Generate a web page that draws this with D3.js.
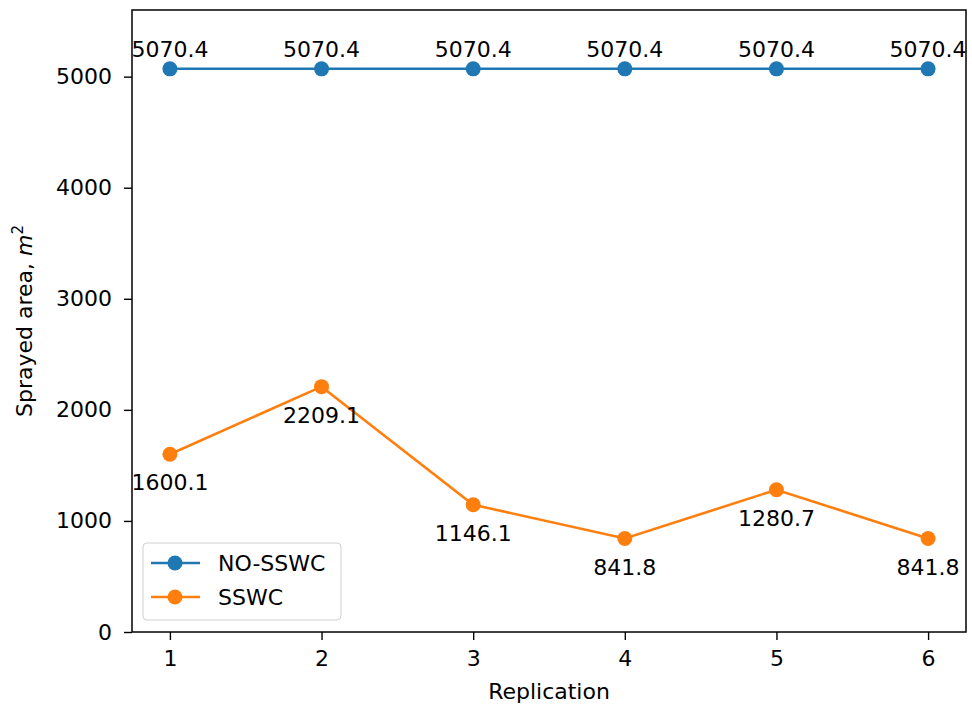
<!DOCTYPE html>
<html lang="en">
  <head>
    <meta charset="UTF-8" />
    <title>Sprayed area</title>
    <script src="https://cdn.jsdelivr.net/npm/d3@7"></script>
    <style>
      body { margin: 0; background: #fff; }
      text { font-family: "DejaVu Sans", sans-serif; fill: #000; }
    </style>
  </head>
  <body>
    <svg width="972" height="708"></svg>
    <script>
      // data
      var replications = [1, 2, 3, 4, 5, 6];
      var noSswc = [5070.4, 5070.4, 5070.4, 5070.4, 5070.4, 5070.4];
      var sswc = [1600.1, 2209.1, 1146.1, 841.8, 1280.7, 841.8];
      var yTicks = [0, 1000, 2000, 3000, 4000, 5000];

      var marge = { top: 10, bottom: 76, left: 132, right: 6 };
      var width = 972 - marge.left - marge.right;
      var height = 708 - marge.top - marge.bottom;
      var fs = "22px";

      const svg = d3.select("svg");
      const g = svg.append("g")
        .attr("transform", `translate(${marge.left},${marge.top})`);

      const x = d3.scaleLinear().domain([0.75, 6.25]).range([0, width]);
      const y = d3.scaleLinear().domain([0, 5600]).range([height, 0]);

      // axes
      const xAxis = d3.axisBottom(x).tickValues(replications).tickFormat(d3.format("d")).tickSize(8).tickPadding(10);
      const yAxis = d3.axisLeft(y).tickValues(yTicks).tickFormat(d3.format("d")).tickSize(8).tickPadding(12);

      const gx = g.append("g").attr("transform", `translate(0,${height})`).call(xAxis);
      const gy = g.append("g").call(yAxis);
      [gx, gy].forEach(a => {
        a.select(".domain").remove();
        a.selectAll("line").attr("stroke", "#000").attr("stroke-width", 1.4);
        a.selectAll("text").style("font-size", fs).attr("fill", "#000");
      });

      // frame
      g.append("rect")
        .attr("width", width).attr("height", height)
        .attr("fill", "none").attr("stroke", "#000").attr("stroke-width", 1.5);

      const series = [
        { name: "NO-SSWC", values: noSswc, color: "#1f77b4", dy: -12 },
        { name: "SSWC", values: sswc, color: "#ff7f0e", dy: 36 }
      ];

      const line = d3.line().x((d, i) => x(replications[i])).y(d => y(d));

      series.forEach(s => {
        g.append("path")
          .datum(s.values)
          .attr("d", line)
          .attr("fill", "none")
          .attr("stroke", s.color)
          .attr("stroke-width", 2.6);
        g.selectAll(null)
          .data(s.values)
          .enter()
          .append("circle")
          .attr("cx", (d, i) => x(replications[i]))
          .attr("cy", d => y(d))
          .attr("r", 7.5)
          .attr("fill", s.color);
        g.selectAll(null)
          .data(s.values)
          .enter()
          .append("text")
          .attr("x", (d, i) => x(replications[i]))
          .attr("y", d => y(d) + s.dy)
          .attr("text-anchor", "middle")
          .style("font-size", fs)
          .text(d => d.toFixed(1));
      });

      // legend
      const leg = g.append("g").attr("transform", "translate(11,533)");
      leg.append("rect")
        .attr("width", 198).attr("height", 77).attr("rx", 4)
        .attr("fill", "#fff").attr("fill-opacity", 0.8)
        .attr("stroke", "#d0d0d0").attr("stroke-width", 1);
      series.forEach((s, i) => {
        const ly = 20 + i * 34;
        leg.append("line")
          .attr("x1", 8).attr("x2", 57).attr("y1", ly).attr("y2", ly)
          .attr("stroke", s.color).attr("stroke-width", 2.6);
        leg.append("circle").attr("cx", 32).attr("cy", ly).attr("r", 7.5).attr("fill", s.color);
        leg.append("text")
          .attr("x", 75).attr("y", ly + 8)
          .style("font-size", fs)
          .text(s.name);
      });

      // axis titles
      svg.append("text")
        .attr("x", marge.left + width / 2).attr("y", 699)
        .attr("text-anchor", "middle")
        .style("font-size", fs)
        .text("Replication");

      const yl = svg.append("text")
        .attr("transform", `translate(32,${marge.top + height / 2}) rotate(-90)`)
        .attr("text-anchor", "middle")
        .style("font-size", fs);
      yl.append("tspan").text("Sprayed area, ");
      yl.append("tspan").style("font-style", "italic").text("m");
      yl.append("tspan").attr("dy", -9).style("font-size", "15px").text("2");
    </script>
  </body>
</html>
